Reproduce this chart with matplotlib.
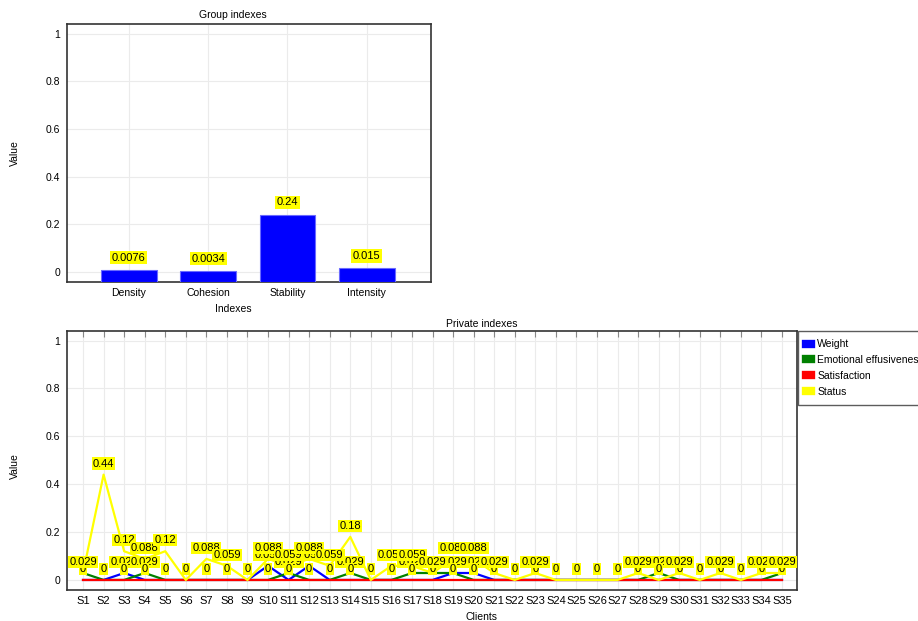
import matplotlib
matplotlib.use("Agg")
import matplotlib.pyplot as plt

plt.rcParams['font.family'] = ['Liberation Sans', 'DejaVu Sans']
plt.rcParams['font.size'] = 7.5

# group indexes (top chart)
group_names = ["Density", "Cohesion", "Stability", "Intensity"]
group_values = [0.0076, 0.0034, 0.24, 0.015]

# private indexes (bottom chart)
clients = ["S%d" % i for i in range(1, 36)]
weight = [0, 0, 0.029, 0, 0, 0, 0, 0, 0, 0.059,
          0, 0.059, 0, 0, 0, 0, 0, 0, 0.029, 0.029,
          0, 0, 0, 0, 0, 0, 0, 0, 0, 0,
          0, 0, 0, 0, 0]
emotional = [0.029, 0, 0, 0.029, 0, 0, 0, 0, 0, 0,
             0.029, 0, 0, 0.029, 0, 0, 0.029, 0.029, 0.029, 0,
             0, 0, 0, 0, 0, 0, 0, 0, 0.029, 0,
             0, 0, 0, 0, 0.029]
satisfaction = [0] * 35
status = [0.029, 0.44, 0.12, 0.088, 0.12, 0, 0.088, 0.059, 0, 0.088,
          0.059, 0.088, 0.059, 0.18, 0, 0.059, 0.059, 0.029, 0.088, 0.088,
          0.029, 0, 0.029, 0, 0, 0, 0, 0.029, 0, 0.029,
          0, 0.029, 0, 0.029, 0.029]

series = [("Weight", weight, "#0000ff"),
          ("Emotional effusivenes", emotional, "#008000"),
          ("Satisfaction", satisfaction, "#ff0000"),
          ("Status", status, "#ffff00")]

YMIN, YMAX = -0.042, 1.04
GRID = "#ebebeb"


def fmt(v):
    if v == 0:
        return "0"
    return "%.2g" % v


def tag(ax, x, y):
    ax.annotate(fmt(y), (x, y), xytext=(0, 8), textcoords="offset points",
                ha="center", va="center", fontsize=8, zorder=10,
                bbox=dict(boxstyle="square,pad=0.1", fc="#ffff00", ec="none"))


def style_axes(ax):
    ax.set_ylim(YMIN, YMAX)
    ax.set_yticks([0, 0.2, 0.4, 0.6, 0.8, 1])
    ax.set_yticklabels(["0", "0.2", "0.4", "0.6", "0.8", "1"])
    ax.grid(True, color=GRID, lw=0.8)
    ax.set_axisbelow(True)
    for s in ax.spines.values():
        s.set_color("#333333")
        s.set_linewidth(1.2)
    ax.tick_params(axis="y", length=0, pad=5)


fig = plt.figure(figsize=(9.18, 6.21), dpi=100)

# ---- top chart
ax1 = fig.add_axes([67 / 918, 1 - 282 / 621, 364 / 918, 258 / 621])
style_axes(ax1)
xs = list(range(len(group_names)))
ax1.bar(xs, [v - YMIN for v in group_values], bottom=YMIN, width=0.7,
        color="#0000ff", edgecolor="#6a6aff", linewidth=0.8, zorder=3)
for x, v in zip(xs, group_values):
    ax1.annotate(fmt(v), (x, v), xytext=(0, 9), textcoords="offset points",
                 ha="center", va="center", fontsize=8, zorder=10,
                 bbox=dict(boxstyle="square,pad=0.15", fc="#ffff00", ec="none"))
ax1.set_xlim(-0.78, 3.81)
ax1.set_xticks(xs)
ax1.set_xticklabels(group_names)
ax1.tick_params(axis="x", length=0, pad=4)

fig.text(233 / 918, 1 - 15 / 621, "Group indexes", ha="center", va="center", fontsize=7.5)
fig.text(233 / 918, 1 - 309 / 621, "Indexes", ha="center", va="center", fontsize=7.5)
fig.text(15 / 918, 1 - 153 / 621, "Value", ha="center", va="center", rotation=90, fontsize=7.5)

# ---- bottom chart
ax2 = fig.add_axes([67 / 918, 1 - 590 / 621, 730 / 918, 259 / 621])
style_axes(ax2)
cx = list(range(len(clients)))
for name, vals, col in series:
    ax2.plot(cx, vals, color=col, lw=1.6, label=name, zorder=3)
for name, vals, col in series:
    for x, v in zip(cx, vals):
        tag(ax2, x, v)
ax2.set_xlim(-0.78, 34.73)
ax2.set_xticks(cx)
ax2.set_xticklabels(clients)
ax2.tick_params(axis="x", bottom=False, top=True, direction="in", length=4,
                color="#888888", pad=4, labelsize=8)

leg = ax2.legend(loc="upper left", bbox_to_anchor=(1.0015, 1.0), frameon=True,
                 fancybox=False, edgecolor="#333333", fontsize=7.5,
                 handlelength=0.45, handleheight=0.7, handletextpad=0.6,
                 borderaxespad=0, labelspacing=0.55, borderpad=0.8)
for h, (name, vals, col) in zip(leg.legend_handles, series):
    h.set_linewidth(6)
leg.get_frame().set_linewidth(1.0)

fig.text(482 / 918, 1 - 324 / 621, "Private indexes", ha="center", va="center", fontsize=7.5)
fig.text(482 / 918, 1 - 617 / 621, "Clients", ha="center", va="center", fontsize=7.5)
fig.text(15 / 918, 1 - 466 / 621, "Value", ha="center", va="center", rotation=90, fontsize=7.5)

fig.savefig("out.png", dpi=100)
